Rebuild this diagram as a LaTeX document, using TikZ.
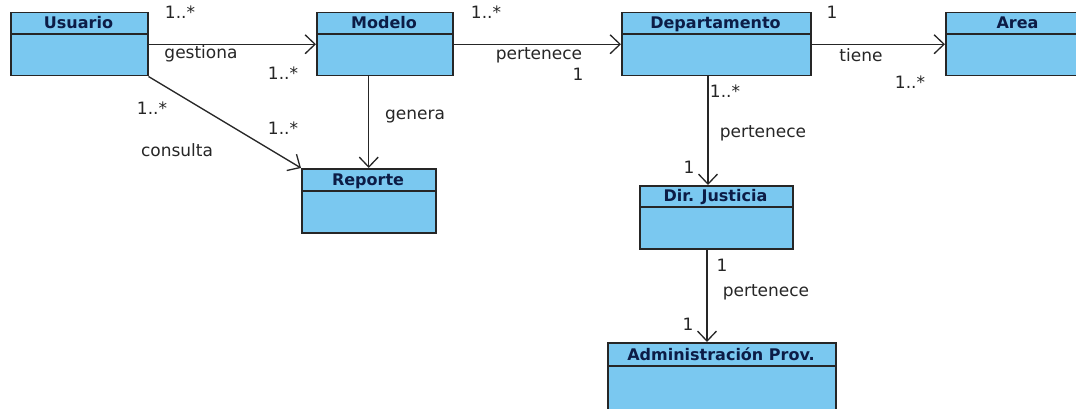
\documentclass[tikz,border=0pt]{standalone}
\usepackage{fontspec}
\setmainfont{DejaVu Sans}
\usetikzlibrary{arrows.meta,calc}
\definecolor{boxfill}{RGB}{122,200,240}
\definecolor{hdr}{RGB}{12,28,70}
\tikzset{
  umlbox/.style={draw=black!85, line width=1.5pt, fill=boxfill, anchor=north west, inner sep=0pt},
  hdrtext/.style={font=\fontsize{16}{18}\selectfont\bfseries, text=hdr, anchor=base, inner sep=0pt},
  lbl/.style={font=\fontsize{17}{19}\selectfont, text=black!85, inner sep=0pt, anchor=center},
  assoc/.style={draw=black!85, line width=1.3pt, -{Straight Barb[length=10pt,width=19pt,line width=1.3pt]}},
}
\newcommand{\umlclass}[7]{%
  % #1 name, #2 x1, #3 y1, #4 x2, #5 y2, #6 ydiv, #7 text
  \node[umlbox, minimum width={#4-#2}, minimum height={#5-#3}] (#1) at (#2,#3) {};
  \draw[black!85, line width=1.5pt] (#2,#6) -- (#4,#6);
  \node[hdrtext] (#1-t) at ({(#2+#4)/2},{#6-5.5}) {#7};
}
\begin{document}
\begin{tikzpicture}[x=1pt,y=-1pt]
\useasboundingbox[fill=white] (0,0) rectangle (1076,409);
\umlclass{u}{10}{12}{147}{75}{34}{Usuario}
\umlclass{m}{316}{12}{452}{75}{34}{Modelo}
\umlclass{d}{621}{12}{810}{75}{34}{Departamento}
\umlclass{a}{945}{12}{1090}{75}{34}{Area}
\umlclass{r}{301}{168}{435}{232}{191}{Reporte}
\umlclass{dj}{639}{185}{792}{248}{207}{Dir. Justicia}
\umlclass{ap}{607}{342}{835}{420}{366}{Administración Prov.}
% connectors
\draw[assoc] (u.east) -- (m.west);
\draw[assoc] (m.east) -- (d.west);
\draw[assoc] (d.east) -- (a.west);
\draw[assoc] (r.north |- m.south) -- (r.north);
\draw[assoc] (u.south east) -- (r.north west);
\draw[assoc] ($(d.south west)+(87,0)$) -- ($(dj.north west)+(69,0)$);
\draw[assoc] ($(dj.south west)+(68,0)$) -- ($(ap.north west)+(100,0)$);
% labels
\node[lbl] (l1) at (180,12) {1..*};
\node[lbl] (l2) at (201,54) {gestiona};
\node[lbl] (l3) at (283,73) {1..*};
\node[lbl] (l4) at (152,108) {1..*};
\node[lbl] (l5) at (177,150) {consulta};
\node[lbl] (l6) at (283,128) {1..*};
\node[lbl] (l7) at (415,117) {genera};
\node[lbl] (l8) at (486,12) {1..*};
\node[lbl] (l9) at (539,55) {pertenece};
\node[lbl] (l10) at (578,74) {1};
\node[lbl] (l11) at (832,12) {1};
\node[lbl] (l12) at (861,55) {tiene};
\node[lbl] (l13) at (910,82) {1..*};
\node[lbl] (l14) at (725,91) {1..*};
\node[lbl] (l15) at (763,133) {pertenece};
\node[lbl] (l16) at (689,167) {1};
\node[lbl] (l17) at (722,265) {1};
\node[lbl] (l18) at (766,292) {pertenece};
\node[lbl] (l19) at (688,324) {1};
\end{tikzpicture}
\end{document}
